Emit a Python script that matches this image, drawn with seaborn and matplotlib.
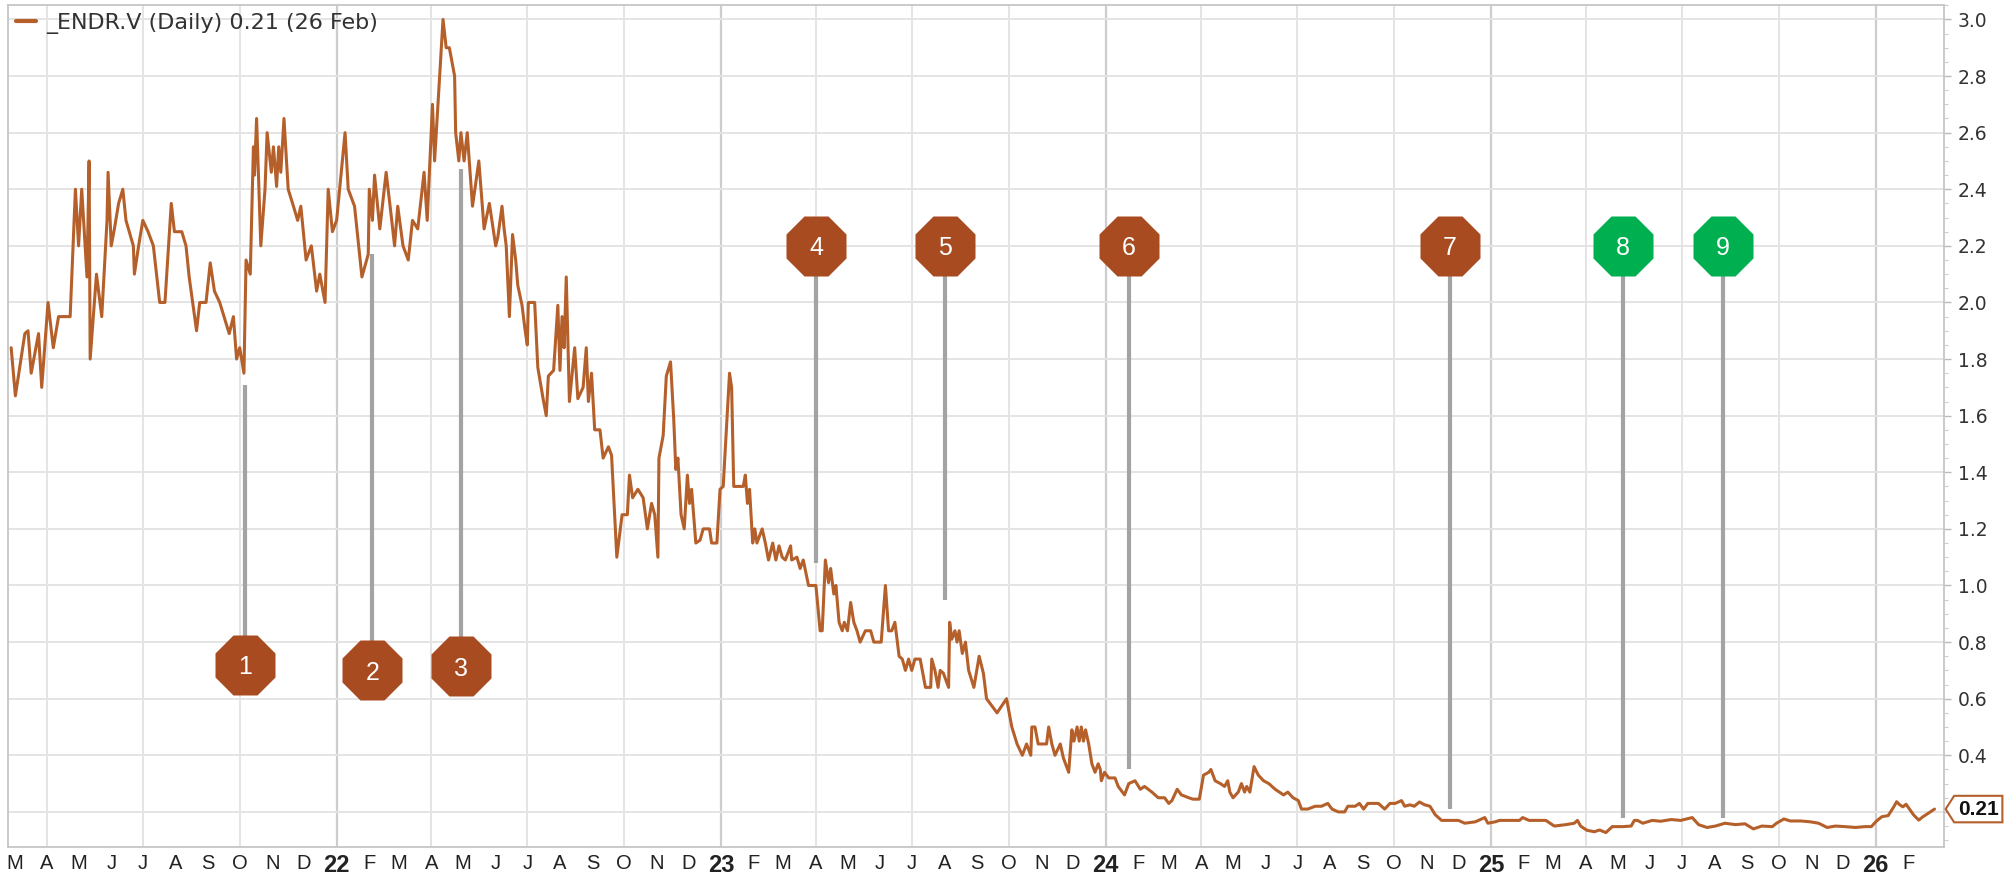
import numpy as np
import pandas as pd
import matplotlib
matplotlib.use("Agg")
import matplotlib.pyplot as plt
from matplotlib.path import Path
from matplotlib.lines import Line2D
from matplotlib.ticker import MultipleLocator, FixedLocator, FixedFormatter
import seaborn as sns

# ---------------- data ----------------
ticker = "_ENDR.V"
period = "Daily"
last_price_label = "0.21"
last_date_label = "26 Feb"

dates = [
    "2021-02-26","2021-03-02","2021-03-11","2021-03-14","2021-03-17","2021-03-24","2021-03-27",
    "2021-04-02","2021-04-07","2021-04-12","2021-04-23","2021-04-28","2021-05-01","2021-05-04",
    "2021-05-09","2021-05-11","2021-05-12","2021-05-18","2021-05-23","2021-05-28","2021-05-29",
    "2021-06-01","2021-06-04","2021-06-08","2021-06-12","2021-06-15","2021-06-22","2021-06-23",
    "2021-06-27","2021-07-01","2021-07-06","2021-07-11","2021-07-17","2021-07-22","2021-07-28",
    "2021-07-31","2021-08-07","2021-08-11","2021-08-14","2021-08-21","2021-08-24","2021-08-30",
    "2021-09-03","2021-09-07","2021-09-12","2021-09-21","2021-09-25","2021-09-28","2021-10-01",
    "2021-10-05","2021-10-07","2021-10-11","2021-10-14","2021-10-15","2021-10-17","2021-10-21",
    "2021-10-25","2021-10-27","2021-10-31","2021-11-02","2021-11-05","2021-11-07","2021-11-09",
    "2021-11-12","2021-11-16","2021-11-21","2021-11-25","2021-11-28","2021-12-03","2021-12-08",
    "2021-12-13","2021-12-16","2021-12-21","2021-12-24","2021-12-28","2022-01-01","2022-01-09",
    "2022-01-12","2022-01-18","2022-01-25","2022-01-31","2022-02-01","2022-02-04","2022-02-06",
    "2022-02-11","2022-02-17","2022-02-22","2022-02-25","2022-02-28","2022-03-05","2022-03-10",
    "2022-03-14","2022-03-19","2022-03-25","2022-03-28","2022-04-02","2022-04-04","2022-04-12",
    "2022-04-15","2022-04-18","2022-04-23","2022-04-24","2022-04-27","2022-04-29","2022-05-02",
    "2022-05-05","2022-05-10","2022-05-16","2022-05-21","2022-05-26","2022-06-01",
    "2022-06-03","2022-06-07","2022-06-09","2022-06-11","2022-06-14","2022-06-17","2022-06-20",
    "2022-06-22","2022-06-26","2022-06-29","2022-07-01","2022-07-02","2022-07-08","2022-07-11",
    "2022-07-16","2022-07-19","2022-07-21","2022-07-26","2022-07-30","2022-08-01","2022-08-03",
    "2022-08-05","2022-08-07","2022-08-10","2022-08-15","2022-08-18","2022-08-23","2022-08-26",
    "2022-08-28","2022-08-31","2022-09-03","2022-09-08","2022-09-11","2022-09-16","2022-09-19",
    "2022-09-24","2022-09-29","2022-10-04","2022-10-06","2022-10-09","2022-10-14","2022-10-19",
    "2022-10-23","2022-10-27","2022-10-30","2022-11-02","2022-11-03","2022-11-07","2022-11-10",
    "2022-11-14","2022-11-17","2022-11-19","2022-11-21","2022-11-24","2022-11-27","2022-11-30",
    "2022-12-02","2022-12-04","2022-12-08","2022-12-12","2022-12-15","2022-12-21","2022-12-23",
    "2022-12-28","2022-12-31","2023-01-03","2023-01-09","2023-01-11","2023-01-13","2023-01-22",
    "2023-01-24","2023-01-26","2023-01-28","2023-01-31","2023-02-02","2023-02-04","2023-02-09",
    "2023-02-12","2023-02-15","2023-02-19","2023-02-22","2023-02-25","2023-02-28","2023-03-03",
    "2023-03-08","2023-03-09","2023-03-14","2023-03-17","2023-03-20","2023-03-25","2023-04-01",
    "2023-04-05","2023-04-07","2023-04-10","2023-04-13","2023-04-15","2023-04-18","2023-04-20",
    "2023-04-23","2023-04-26","2023-04-28","2023-05-01","2023-05-04","2023-05-07","2023-05-10",
    "2023-05-13","2023-05-18","2023-05-23","2023-05-26","2023-06-02","2023-06-06","2023-06-09",
    "2023-06-12","2023-06-15","2023-06-19","2023-06-22","2023-06-25","2023-06-28","2023-07-01",
    "2023-07-04","2023-07-09","2023-07-14","2023-07-19","2023-07-20","2023-07-23","2023-07-26",
    "2023-07-28","2023-07-31","2023-08-05","2023-08-06","2023-08-08","2023-08-11","2023-08-13",
    "2023-08-15","2023-08-18","2023-08-21","2023-08-24","2023-08-29","2023-09-03","2023-09-07",
    "2023-09-10","2023-09-20","2023-09-29","2023-10-04","2023-10-09","2023-10-14","2023-10-18",
    "2023-10-22","2023-10-23","2023-10-26","2023-10-29","2023-11-06","2023-11-08","2023-11-11",
    "2023-11-14","2023-11-19","2023-11-22","2023-11-27","2023-11-30","2023-12-02","2023-12-05",
    "2023-12-07","2023-12-09","2023-12-11","2023-12-13","2023-12-16","2023-12-19","2023-12-22",
    "2023-12-25","2023-12-27","2023-12-28","2023-12-31","2024-01-04","2024-01-10","2024-01-13",
    "2024-01-19","2024-01-23","2024-01-29","2024-02-03","2024-02-07","2024-02-14","2024-02-20",
    "2024-02-26","2024-03-01","2024-03-04","2024-03-09","2024-03-13","2024-03-20","2024-03-24",
    "2024-03-30","2024-04-03","2024-04-08","2024-04-10","2024-04-14","2024-04-19","2024-04-23",
    "2024-04-26","2024-04-28","2024-05-01","2024-05-06","2024-05-09","2024-05-12","2024-05-14",
    "2024-05-17","2024-05-21","2024-05-25","2024-05-30","2024-06-04","2024-06-10","2024-06-18",
    "2024-06-22","2024-06-27","2024-07-02","2024-07-05","2024-07-11","2024-07-18","2024-07-24",
    "2024-07-30","2024-08-03","2024-08-09","2024-08-15","2024-08-18","2024-08-25","2024-08-29",
    "2024-09-02","2024-09-06","2024-09-16","2024-09-22","2024-09-27","2024-10-02","2024-10-08",
    "2024-10-11","2024-10-16","2024-10-20","2024-10-25","2024-10-30","2024-11-04","2024-11-09",
    "2024-11-15","2024-11-24","2024-12-01","2024-12-07","2024-12-17","2024-12-26","2024-12-29",
    "2025-01-05","2025-01-09","2025-01-15","2025-01-28","2025-01-31","2025-02-06","2025-02-16",
    "2025-02-22","2025-03-02","2025-03-13","2025-03-21","2025-03-24","2025-03-27","2025-04-02",
    "2025-04-09","2025-04-14","2025-04-20","2025-04-26","2025-05-06","2025-05-14","2025-05-17",
    "2025-05-20","2025-05-25","2025-06-03","2025-06-11","2025-06-21","2025-06-30","2025-07-11",
    "2025-07-17","2025-07-25","2025-08-02","2025-08-11","2025-08-21","2025-08-30","2025-09-07",
    "2025-09-15","2025-09-25","2025-09-29","2025-10-06","2025-10-12","2025-10-22","2025-10-31",
    "2025-11-08","2025-11-16","2025-11-24","2025-12-03","2025-12-13","2025-12-22","2025-12-28",
    "2026-01-02","2026-01-07","2026-01-13","2026-01-18","2026-01-21","2026-01-24","2026-01-27",
    "2026-01-30","2026-02-03","2026-02-06","2026-02-11","2026-02-15","2026-02-20","2026-02-26",
]

prices = [
    1.84,1.67,1.89,1.90,1.75,1.89,1.70,
    2.00,1.84,1.95,1.95,2.40,2.20,2.40,
    2.09,2.50,1.80,2.10,1.95,2.29,2.46,
    2.20,2.26,2.35,2.40,2.29,2.20,2.10,
    2.20,2.29,2.25,2.20,2.00,2.00,2.35,
    2.25,2.25,2.20,2.09,1.90,2.00,2.00,
    2.14,2.04,2.00,1.89,1.95,1.80,1.84,
    1.75,2.15,2.10,2.55,2.45,2.65,2.20,
    2.40,2.60,2.46,2.55,2.41,2.55,2.46,
    2.65,2.40,2.34,2.29,2.34,2.15,2.20,
    2.04,2.10,2.00,2.40,2.25,2.29,2.60,
    2.40,2.34,2.09,2.17,2.40,2.29,2.45,
    2.26,2.46,2.30,2.20,2.34,2.20,2.15,
    2.29,2.26,2.46,2.29,2.70,2.50,3.00,
    2.90,2.90,2.80,2.60,2.50,2.60,2.50,
    2.60,2.34,2.50,2.26,2.35,2.20,
    2.23,2.34,2.26,2.20,1.95,2.24,2.15,
    2.06,1.99,1.90,1.85,2.00,2.00,1.77,
    1.66,1.60,1.74,1.76,1.99,1.76,1.95,
    1.84,2.09,1.65,1.84,1.66,1.70,1.84,
    1.65,1.75,1.55,1.55,1.45,1.49,1.46,
    1.10,1.25,1.25,1.39,1.31,1.34,1.31,
    1.20,1.29,1.25,1.10,1.45,1.53,1.74,
    1.79,1.59,1.41,1.45,1.25,1.20,1.39,
    1.29,1.34,1.15,1.16,1.20,1.20,1.15,
    1.15,1.34,1.35,1.75,1.70,1.35,1.35,
    1.39,1.29,1.34,1.15,1.20,1.15,1.20,
    1.15,1.09,1.15,1.09,1.14,1.10,1.09,
    1.14,1.09,1.10,1.06,1.09,1.00,1.00,
    0.84,0.84,1.09,1.01,1.06,0.97,1.00,
    0.87,0.84,0.87,0.84,0.94,0.87,0.84,
    0.80,0.84,0.84,0.80,0.80,1.00,0.84,
    0.84,0.87,0.75,0.74,0.70,0.74,0.70,
    0.74,0.74,0.64,0.64,0.74,0.70,0.64,
    0.70,0.69,0.64,0.87,0.81,0.84,0.80,
    0.84,0.76,0.80,0.70,0.64,0.75,0.69,
    0.60,0.55,0.60,0.50,0.44,0.40,0.44,
    0.40,0.50,0.50,0.44,0.44,0.50,0.44,
    0.40,0.44,0.39,0.34,0.49,0.45,0.50,
    0.45,0.50,0.45,0.49,0.44,0.37,0.34,
    0.37,0.35,0.31,0.34,0.32,0.32,0.29,
    0.26,0.30,0.31,0.28,0.29,0.27,0.25,
    0.25,0.23,0.24,0.28,0.26,0.25,0.245,
    0.245,0.33,0.34,0.35,0.31,0.30,0.29,
    0.31,0.27,0.25,0.27,0.30,0.27,0.29,
    0.27,0.36,0.33,0.31,0.30,0.28,0.26,
    0.27,0.25,0.24,0.21,0.21,0.22,0.22,
    0.23,0.21,0.20,0.20,0.22,0.22,0.23,
    0.21,0.23,0.23,0.21,0.23,0.23,0.24,
    0.22,0.225,0.22,0.235,0.225,0.22,0.19,
    0.17,0.17,0.17,0.16,0.165,0.18,0.16,
    0.165,0.17,0.17,0.17,0.18,0.17,0.17,
    0.17,0.15,0.155,0.16,0.17,0.15,0.135,
    0.13,0.136,0.127,0.148,0.148,0.15,0.17,
    0.17,0.16,0.17,0.167,0.173,0.17,0.18,
    0.155,0.145,0.15,0.16,0.155,0.158,0.14,
    0.15,0.148,0.16,0.175,0.168,0.168,0.165,
    0.16,0.145,0.15,0.148,0.145,0.148,0.148,
    0.168,0.183,0.187,0.216,0.236,0.225,0.218,
    0.227,0.206,0.19,0.171,0.183,0.195,0.21,
]

event_ids = ["1", "2", "3", "4", "5", "6", "7", "8", "9"]
event_dates = ["2021-10-06", "2022-02-04", "2022-04-29", "2023-04-01", "2023-08-02",
               "2024-01-23", "2024-11-23", "2025-05-06", "2025-08-09"]
event_anchor = [1.71, 2.17, 2.47, 1.08, 0.95, 0.35, 0.21, 0.18, 0.18]
event_level = [0.72, 0.70, 0.715, 2.20, 2.20, 2.20, 2.20, 2.20, 2.20]
event_kind = ["neg", "neg", "neg", "neg", "neg", "neg", "neg", "pos", "pos"]

y_ticks = [0.2, 0.4, 0.6, 0.8, 1.0, 1.2, 1.4, 1.6, 1.8, 2.0, 2.2, 2.4, 2.6, 2.8, 3.0]
y_tick_labels = ["", "0.4", "0.6", "0.8", "1.0", "1.2", "1.4", "1.6", "1.8", "2.0",
                 "2.2", "2.4", "2.6", "2.8", "3.0"]
month_letters = ["J", "F", "M", "A", "M", "J", "J", "A", "S", "O", "N", "D"]

# ---------------- style ----------------
line_color = "#B5602B"
kind_color = {"neg": "#A84B20", "pos": "#00B050"}
stem_color = "#A3A3A3"
grid_color = "#E4E4E4"
year_grid_color = "#CDCDCD"
spine_color = "#C6C6C6"
narrow = ["Liberation Sans Narrow", "Liberation Sans", "DejaVu Sans"]

sns.set_theme(style="white")
plt.rcParams["font.family"] = ["DejaVu Sans"]

fig = plt.figure(figsize=(20.05, 8.76), dpi=100)
ax = fig.add_axes([8 / 2005, 29 / 876, 1936 / 2005, 842 / 876])

df = pd.DataFrame({"date": pd.to_datetime(dates), "price": prices})
sns.lineplot(data=df, x="date", y="price", ax=ax, color=line_color, lw=2.2, zorder=2)

# limits
ax.set_xlim(pd.Timestamp("2021-02-23"), pd.Timestamp("2026-03-07"))
ax.set_ylim(0.076, 3.051)

# gridlines
ax.yaxis.set_major_locator(FixedLocator(y_ticks))
ax.yaxis.set_major_formatter(FixedFormatter(y_tick_labels))
ax.yaxis.set_minor_locator(MultipleLocator(0.05))
ax.grid(axis="y", which="major", color=grid_color, lw=1.4, zorder=0)
for q in pd.date_range("2021-04-01", "2026-01-01", freq="QS"):
    ax.axvline(q, color=year_grid_color if q.month == 1 else grid_color,
               lw=1.6 if q.month == 1 else 1.4, zorder=0)

# x ticks: month letters, year numbers for January
months = pd.date_range("2021-03-01", "2026-02-01", freq="MS")
ax.set_xticks(months)
labels = [f"{m.year % 100:02d}" if m.month == 1 else month_letters[m.month - 1] for m in months]
ax.set_xticklabels(labels)
for m, t in zip(months, ax.get_xticklabels()):
    t.set_family(narrow)
    if m.month == 1:
        t.set_fontsize(17)
        t.set_fontweight("bold")
    else:
        t.set_fontsize(14.5)
    t.set_color("#222222")
ax.tick_params(axis="x", direction="out", length=4, width=1, color=spine_color, pad=1)

# y axis on the right
ax.yaxis.tick_right()
ax.tick_params(axis="y", which="major", direction="out", length=5, width=1,
               color="#BBBBBB", labelsize=13.5, labelcolor="#333333", pad=5)
ax.tick_params(axis="y", which="minor", direction="out", length=3, width=0.8,
               color="#CCCCCC", right=True, left=False)
ax.set_xlabel("")
ax.set_ylabel("")

for s in ax.spines.values():
    s.set_color(spine_color)
    s.set_linewidth(1.3)

# event stems and octagon markers
ev_dates = pd.to_datetime(event_dates)
ax.vlines(ev_dates, event_anchor, event_level, color=stem_color, lw=3.0, zorder=3)
for kind in ("neg", "pos"):
    sel = [i for i, k in enumerate(event_kind) if k == kind]
    ax.plot([ev_dates[i] for i in sel], [event_level[i] for i in sel], ls="none",
            marker="8", ms=46, mfc=kind_color[kind], mec="none", zorder=4)
for d, lvl, lab in zip(ev_dates, event_level, event_ids):
    ax.text(d, lvl, lab, ha="center", va="center_baseline", color="white",
            fontsize=18, family=["Liberation Sans", "DejaVu Sans"], zorder=5)

# legend (text set afterwards: labels starting with "_" are skipped by matplotlib)
legend_text = f"{ticker} ({period}) {last_price_label} ({last_date_label})"
handle = Line2D([], [], color=line_color, lw=3)
leg = ax.legend([handle], ["series"], loc="upper left", frameon=False, fontsize=16,
                handlelength=0.9, handletextpad=0.45, borderaxespad=0.1, borderpad=0.25)
for t in leg.get_texts():
    t.set_text(legend_text)
    t.set_color("#333333")

# last price tag on the right axis
def tag_box(x0, y0, width, height, mutation_size):
    pad = 0.18 * mutation_size
    x0, y0 = x0 - pad, y0 - pad
    w, h = width + 2 * pad, height + 2 * pad
    tip = 0.32 * h
    verts = [(x0 - tip, y0 + h / 2), (x0, y0 + h), (x0 + w, y0 + h),
             (x0 + w, y0), (x0, y0), (x0 - tip, y0 + h / 2)]
    return Path(verts, closed=True)

ax.annotate(last_price_label, xy=(1.0, prices[-1]), xycoords=("axes fraction", "data"),
            xytext=(10, 0), textcoords="offset points", ha="left", va="center",
            fontsize=15, fontweight="bold", family=narrow, color="#111111",
            annotation_clip=False,
            bbox=dict(boxstyle=tag_box, fc="white", ec=line_color, lw=1.5))

fig.savefig("out.png", dpi=100, facecolor="white")
